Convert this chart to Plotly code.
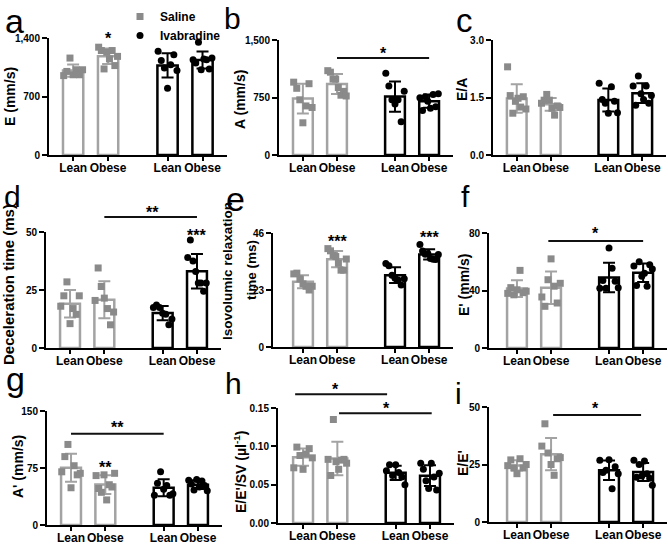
import numpy as np
import plotly.graph_objects as go

# ---------------- data ----------------
group_labels = ["Lean", "Obese", "Lean", "Obese"]
series_names = ["Saline", "Ivabradine"]

# each panel: [lean saline, obese saline, lean ivabradine, obese ivabradine]
E_vals = [[950, 1000, 1160, 960, 1020, 960, 1020],
          [1290, 1250, 1030, 1230, 1150, 1250, 1070, 1180],
          [1240, 1130, 1040, 800, 1080, 1200, 1010],
          [1140, 1100, 1350, 1020, 1150, 1140, 1030, 1160]]
A_vals = [[950, 870, 720, 420, 640, 930, 620],
          [1100, 1080, 990, 990, 880, 780, 830, 770],
          [1065, 900, 720, 665, 720, 435, 830],
          [748, 580, 760, 700, 610, 790, 630, 800]]
EA_vals = [[2.30, 1.55, 1.09, 1.40, 1.48, 1.25, 1.52, 1.20],
           [1.35, 1.43, 1.58, 1.43, 1.22, 1.04, 1.28, 1.24],
           [1.87, 1.45, 1.35, 1.09, 1.78, 1.40, 1.10],
           [1.80, 1.30, 2.06, 1.60, 1.45, 1.80, 1.35, 1.55]]
DT_vals = [[18, 22.5, 28.5, 10.5, 17, 14.5, 22.5],
           [20.5, 34.5, 26.5, 21.5, 17, 10, 15.5],
           [17.5, 18.5, 17.5, 15, 14.5, 10, 12.5],
           [39, 46.5, 37.5, 33, 28, 28, 24.5, 28]]
IVRT_vals = [[29.5, 29.8, 27.5, 25.5, 24.5, 23, 24.5],
             [39.7, 38.8, 37, 36.5, 33.8, 31, 31, 35.5],
             [33.7, 32.8, 29, 27.7, 27, 25, 27.5],
             [41.4, 38.7, 37.4, 37.7, 35.7, 35.4, 35.3, 37.3]]
Ep_vals = [[38, 42, 37, 40.5, 54, 38.5, 39.5],
           [35.5, 29, 47.5, 62, 43, 31.3, 45],
           [41.5, 47, 41.5, 69.5, 55.5, 46.5, 42],
           [57, 43.5, 60, 50, 52, 43, 58, 55]]
Ap_vals = [[70, 90, 106, 49, 78, 66, 68],
           [65, 48, 43, 66, 33, 53, 50, 68],
           [39, 55, 70, 47, 52, 39, 41],
           [59, 54, 46, 60, 50, 58, 52, 45]]
EEpSV_vals = [[0.072, 0.099, 0.088, 0.070, 0.090, 0.097, 0.085],
              [0.083, 0.062, 0.135, 0.080, 0.070, 0.082, 0.083, 0.078],
              [0.068, 0.076, 0.062, 0.076, 0.066, 0.060, 0.050],
              [0.078, 0.070, 0.055, 0.045, 0.078, 0.060, 0.043, 0.065]]
EEp_vals = [[24.5, 27, 23.5, 21, 27.5, 23.5, 25],
            [33, 42.7, 30, 25, 20.3, 27.5, 28],
            [26.8, 21.5, 22.5, 27.1, 14.5, 24, 21],
            [26.8, 19.5, 25, 20, 26.5, 21, 19, 16]]

# y tick values / labels
E_ticks, E_ticktext = [0, 700, 1400], ["0", "700", "1,400"]
A_ticks, A_ticktext = [0, 750, 1500], ["0", "750", "1,500"]
EA_ticks, EA_ticktext = [0, 1.5, 3.0], ["0.0", "1.5", "3.0"]
DT_ticks, DT_ticktext = [0, 25, 50], ["0", "25", "50"]
IVRT_ticks, IVRT_ticktext = [0, 23, 46], ["0", "23", "46"]
Ep_ticks, Ep_ticktext = [0, 40, 80], ["0", "40", "80"]
Ap_ticks, Ap_ticktext = [0, 75, 150], ["0", "75", "150"]
EEpSV_ticks, EEpSV_ticktext = [0, 0.05, 0.10, 0.15], ["0.00", "0.05", "0.10", "0.15"]
EEp_ticks, EEp_ticktext = [0, 25, 50], ["0", "25", "50"]

# significance: (x_from, x_to, level) lines, and (x, level, text) stars
E_lines, E_stars = [], [(1, 1436, "*")]
A_lines, A_stars = [(1, 3.7, 1265)], [(2.35, 1376, "*")]
EA_lines, EA_stars = [], []
DT_lines, DT_stars = [(1, 3.7, 56.5)], [(2.39, 60.3, "**"), (3.7, 50.4, "***")]
IVRT_lines, IVRT_stars = [], [(1, 44.0, "***"), (3.7, 45.6, "***")]
Ep_lines, Ep_stars = [(0.92, 3.7, 74.4)], [(2.3, 82.1, "*")]
Ap_lines, Ap_stars = [(0, 2.7, 120)], [(1.35, 133.7, "**"), (1, 80.9, "**")]
EEpSV_lines, EEpSV_stars = [(-0.23, 2.45, 0.168), (1.05, 3.75, 0.143)], [(0.95, 0.179, "*"), (2.42, 0.1546, "*")]
EEp_lines, EEp_stars = [(1.06, 3.64, 46.5)], [(2.3, 51.1, "*")]

# ---------------- style / layout ----------------
W, H = 668, 545
FONT = "Liberation Sans, Arial, sans-serif"
SAL_LINE = "#a3a3a3"
SAL_MARK = "#8a8a8a"
IVA = "#000000"
bar_pos = [0, 1, 2.7, 3.7]


def fx(px):
    return px / W


def fy(py):
    return 1 - py / H


# axis titles: list of (text, x px, y px) lines
panels = [
    # letter, data, ymax, ticks, ticktext, titles, title size, (left, right, top, bottom px), xleft, lines, stars, letter (x, top y), letter size
    ("a", E_vals, 1400, E_ticks, E_ticktext, [("E (mm/s)", 10, 97)], 14, (49, 227, 38, 155), -0.69, E_lines, E_stars, (3, 0), 34),
    ("b", A_vals, 1500, A_ticks, A_ticktext, [("A (mm/s)", 240, 100)], 14, (279, 453, 40, 155), -0.70, A_lines, A_stars, (222, 0), 30),
    ("c", EA_vals, 3.0, EA_ticks, EA_ticktext, [("E/A", 462, 89)], 14, (493, 666, 40, 155), -0.70, EA_lines, EA_stars, (454, 0), 33),
    ("d", DT_vals, 50, DT_ticks, DT_ticktext, [("Deceleration time (ms)", 8, 285)], 15, (46, 221, 232, 348), -0.70, DT_lines, DT_stars, (2, 178), 30),
    ("e", IVRT_vals, 46, IVRT_ticks, IVRT_ticktext, [("Isovolumic relaxation", 227, 271), ("time (ms)", 251, 270)], 13.5, (273, 453, 233, 347), -0.88, IVRT_lines, IVRT_stars, (224, 178), 34),
    ("f", Ep_vals, 80, Ep_ticks, Ep_ticktext, [("E' (mm/s)", 464, 285)], 14, (489, 667, 233, 348), -0.82, Ep_lines, Ep_stars, (459, 178), 30),
    ("g", Ap_vals, 150, Ap_ticks, Ap_ticktext, [("A' (mm/s)", 18, 467)], 14, (47, 222, 411, 525), -0.70, Ap_lines, Ap_stars, (4, 358), 34),
    ("h", EEpSV_vals, 0.15, EEpSV_ticks, EEpSV_ticktext, [("E/E'/SV (µl<sup>-1</sup>)", 240, 472)], 14, (278, 454, 408, 523), -0.73, EEpSV_lines, EEpSV_stars, (223, 365), 30),
    ("i", EEp_vals, 50, EEp_ticks, EEp_ticktext, [("E/E'", 463, 463)], 14, (489, 667, 407, 522), -0.82, EEp_lines, EEp_stars, (453, 375), 30),
]

fig = go.Figure()
layout = dict(
    width=W, height=H,
    margin=dict(l=0, r=0, t=0, b=0, autoexpand=False),
    paper_bgcolor="white", plot_bgcolor="white",
    barmode="overlay",
    font=dict(family=FONT, color="black"),
    showlegend=True,
    legend=dict(x=fx(120), y=fy(2), xanchor="left", yanchor="top",
                font=dict(family=FONT, size=12, color="black", weight="bold"),
                bgcolor="rgba(0,0,0,0)", tracegroupgap=0, itemwidth=30),
)
annotations = []
shapes = []

for k, (letter, vals, ymax, ticks, ticktext, titles, tsize, box, xl,
        sig_lines, sig_stars, lpos, lsize) in enumerate(panels, start=1):
    s = "" if k == 1 else str(k)
    xa, ya = "x" + s, "y" + s
    means = [float(np.mean(v)) for v in vals]
    sds = [float(np.std(v, ddof=1)) for v in vals]

    for gi, (idx, lcol, mcol, sym) in enumerate([([0, 1], SAL_LINE, SAL_MARK, "square"),
                                                  ([2, 3], IVA, IVA, "circle")]):
        fig.add_trace(go.Bar(
            x=[bar_pos[i] for i in idx], y=[means[i] for i in idx], width=0.58,
            marker=dict(color="white", line=dict(color=lcol, width=2.5)),
            error_y=dict(type="data", array=[sds[i] for i in idx], color=lcol,
                         thickness=2, width=6),
            xaxis=xa, yaxis=ya, showlegend=False, hoverinfo="skip"))
        for j, i in enumerate(idx):
            n = len(vals[i])
            offs = np.linspace(-0.27, 0.27, n)
            fig.add_trace(go.Scatter(
                x=bar_pos[i] + offs, y=vals[i], mode="markers",
                marker=dict(symbol=sym, size=7, color=mcol, line=dict(width=0)),
                cliponaxis=False, xaxis=xa, yaxis=ya,
                name=series_names[gi],
                showlegend=(k == 1 and j == 0), hoverinfo="skip"))

    left, right, top, bottom = box
    axis_common = dict(showline=True, linewidth=2, linecolor="black",
                       ticks="outside", tickwidth=2, tickcolor="black",
                       showgrid=False, zeroline=False, fixedrange=True, automargin=False)
    layout["xaxis" + s] = dict(domain=[fx(left), fx(right)], range=[xl, 4.4], anchor=ya,
                               tickmode="array", tickvals=bar_pos, ticktext=group_labels,
                               tickangle=0, ticklen=4, ticklabelstandoff=-3,
                               tickfont=dict(family=FONT, size=12, color="black", weight="bold"),
                               **axis_common)
    layout["yaxis" + s] = dict(domain=[fy(bottom), fy(top)], range=[0, ymax], anchor=xa,
                               tickmode="array", tickvals=ticks, ticktext=ticktext, ticklen=5,
                               tickfont=dict(family=FONT, size=10, color="black", weight="bold"),
                               **axis_common)

    # axis title(s)
    for (ttxt, tx, ty) in titles:
        annotations.append(dict(x=fx(tx), y=fy(ty), xref="paper", yref="paper",
                                text=ttxt, textangle=-90, showarrow=False,
                                xanchor="center", yanchor="middle",
                                font=dict(family=FONT, size=tsize, color="black", weight="bold")))
    # panel letter
    annotations.append(dict(x=fx(lpos[0]), y=fy(lpos[1]), xref="paper", yref="paper",
                            text=letter, showarrow=False, xanchor="left", yanchor="top",
                            font=dict(family=FONT, size=lsize, color="black")))
    # significance lines
    for (x0, x1, lev) in sig_lines:
        shapes.append(dict(type="line", xref=xa, yref=ya + " domain",
                           x0=x0, x1=x1, y0=lev / ymax, y1=lev / ymax,
                           line=dict(color="#111111", width=2)))
    for (xx, lev, txt) in sig_stars:
        annotations.append(dict(x=xx, y=lev / ymax, xref=xa, yref=ya + " domain",
                                text=txt, showarrow=False, xanchor="center", yanchor="middle",
                                yshift=-4,
                                font=dict(family=FONT, size=16, color="black", weight="bold")))

layout["annotations"] = annotations
layout["shapes"] = shapes
fig.update_layout(**layout)
fig.write_html("out.html", config={"displayModeBar": False},
               post_script="document.body.style.margin='0px';document.body.style.padding='0px';")
